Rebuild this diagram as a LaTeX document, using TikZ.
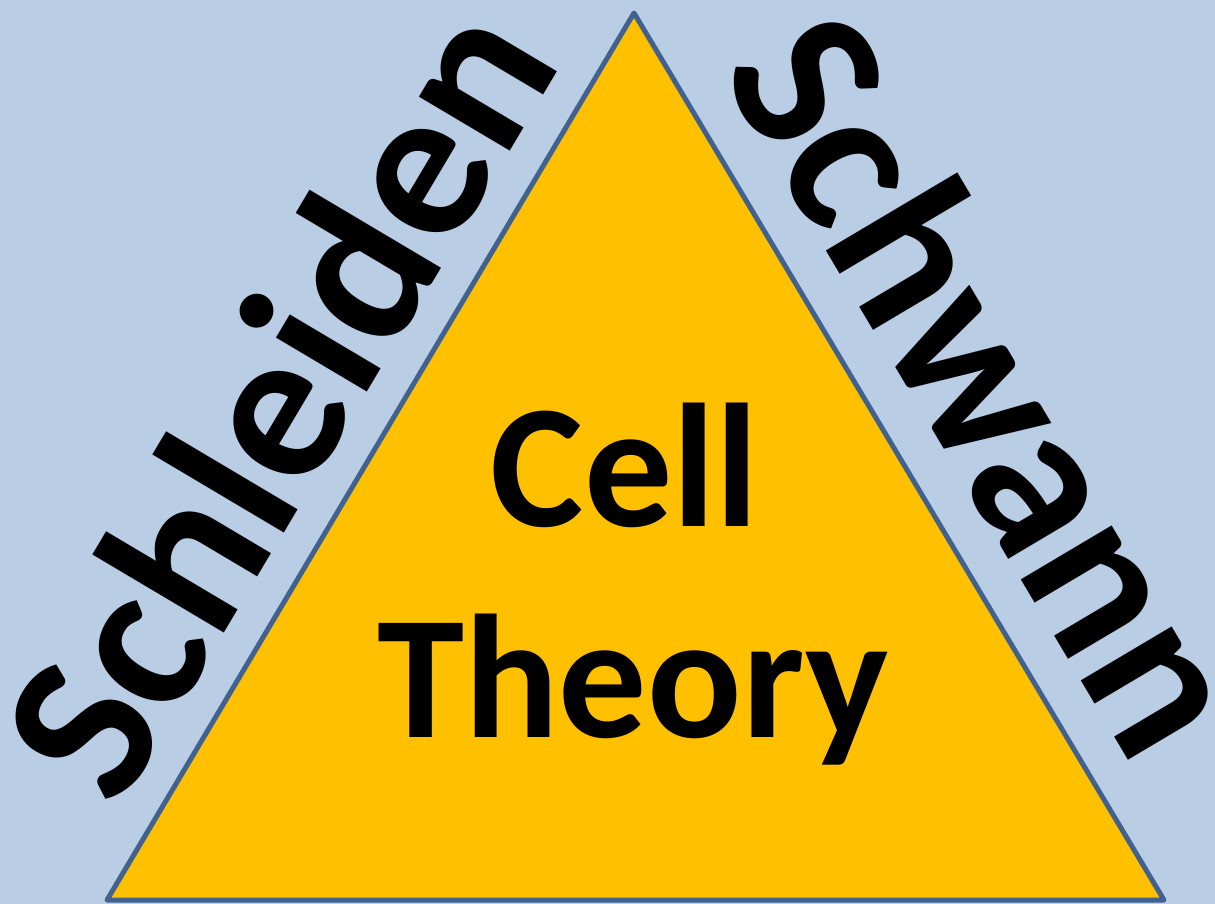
\documentclass[tikz,border=0pt]{standalone}
\usepackage{fontspec}
\setmainfont{Carlito}
\definecolor{bgblue}{HTML}{B9CDE5}
\definecolor{gold}{HTML}{FFC000}
\definecolor{edgeblue}{HTML}{41628F}
\begin{document}
\begin{tikzpicture}[x=1pt,y=-1pt,
  sidetext/.style={inner sep=0pt,font=\fontsize{218}{262}\selectfont\bfseries,text=black},
  maintext/.style={inner sep=0pt,font=\fontsize{176}{211}\selectfont\bfseries,text=black,anchor=base}]
\useasboundingbox (0,0) rectangle (1215,904);
\clip (0,0) rectangle (1215,904);
\fill[bgblue] (0,0) rectangle (1215,904);
\coordinate (A) at (634,13);
\coordinate (B) at (107,900);
\coordinate (C) at (1164,900);
\filldraw[fill=gold,draw=edgeblue,line width=5pt,line join=round] (A) -- (B) -- (C) -- cycle;
\node[maintext] (cell) at (625,526) {Cell};
\node[maintext] (theory) at (633,737) {Theory};
\node[sidetext,anchor=base,rotate=59.3] (schleiden) at (341,437) {Schleiden};
\node[sidetext,anchor=base,rotate=-59.3] (schwann) at (927,421) {Schwann};
\end{tikzpicture}
\end{document}
